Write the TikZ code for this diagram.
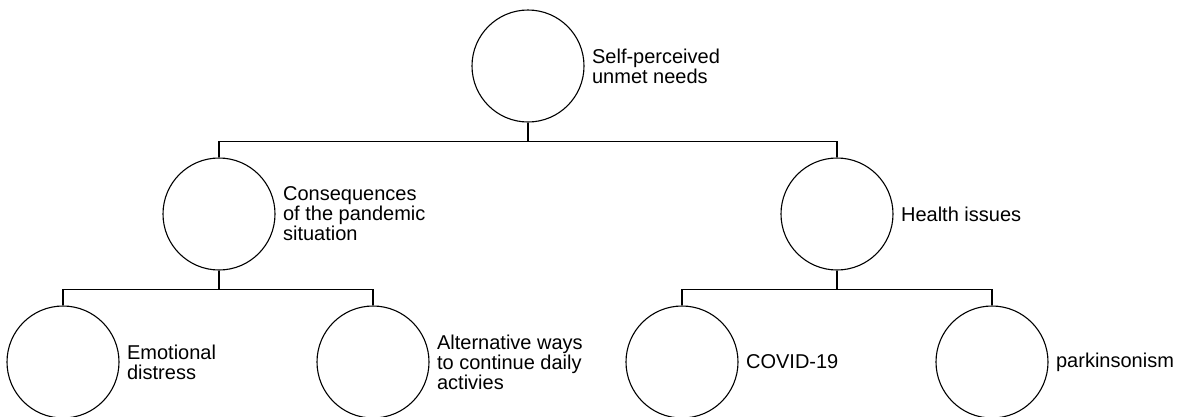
\documentclass[tikz,border=0pt]{standalone}
\usepackage{fontspec}
\setmainfont{Liberation Sans}
\usetikzlibrary{positioning}

\begin{document}
\begin{tikzpicture}[x=1pt, y=-1pt, line width=1.1pt,
    circ/.style={draw, circle, minimum size=112pt, inner sep=0pt},
    lbl/.style={align=left, inner sep=0pt, font=\fontsize{20}{20}\selectfont}]
  \clip (0, 0) rectangle (1178, 416);
  \node [circ] (top) at (528, 66) {};
  \node [circ] (cons) at (219, 214) {};
  \node [circ] (health) at (837, 214) {};
  \node [circ] (emo) at (63, 362) {};
  \node [circ] (alt) at (373, 362) {};
  \node [circ] (covid) at (682, 362) {};
  \node [circ] (park) at (992, 362) {};
  \node [lbl, right=7pt of top] (toplbl) {Self-perceived\\unmet needs};
  \node [lbl, right=7pt of cons] (conslbl) {Consequences\\of the pandemic\\situation};
  \node [lbl, right=7pt of health] (healthlbl) {Health issues};
  \node [lbl, right=7pt of emo] (emolbl) {Emotional\\distress};
  \node [lbl, right=7pt of alt] (altlbl) {Alternative ways\\to continue daily\\activies};
  \node [lbl, right=7pt of covid] (covidlbl) {COVID-19};
  \node [lbl, right=7pt of park] (parklbl) {parkinsonism};
  \draw (top.south) -- ++(0, 18.5) -| (cons.north);
  \draw (top.south) -- ++(0, 18.5) -| (health.north);
  \draw (cons.south) -- ++(0, 18.5) -| (emo.north);
  \draw (cons.south) -- ++(0, 18.5) -| (alt.north);
  \draw (health.south) -- ++(0, 18.5) -| (covid.north);
  \draw (health.south) -- ++(0, 18.5) -| (park.north);
\end{tikzpicture}
\end{document}
